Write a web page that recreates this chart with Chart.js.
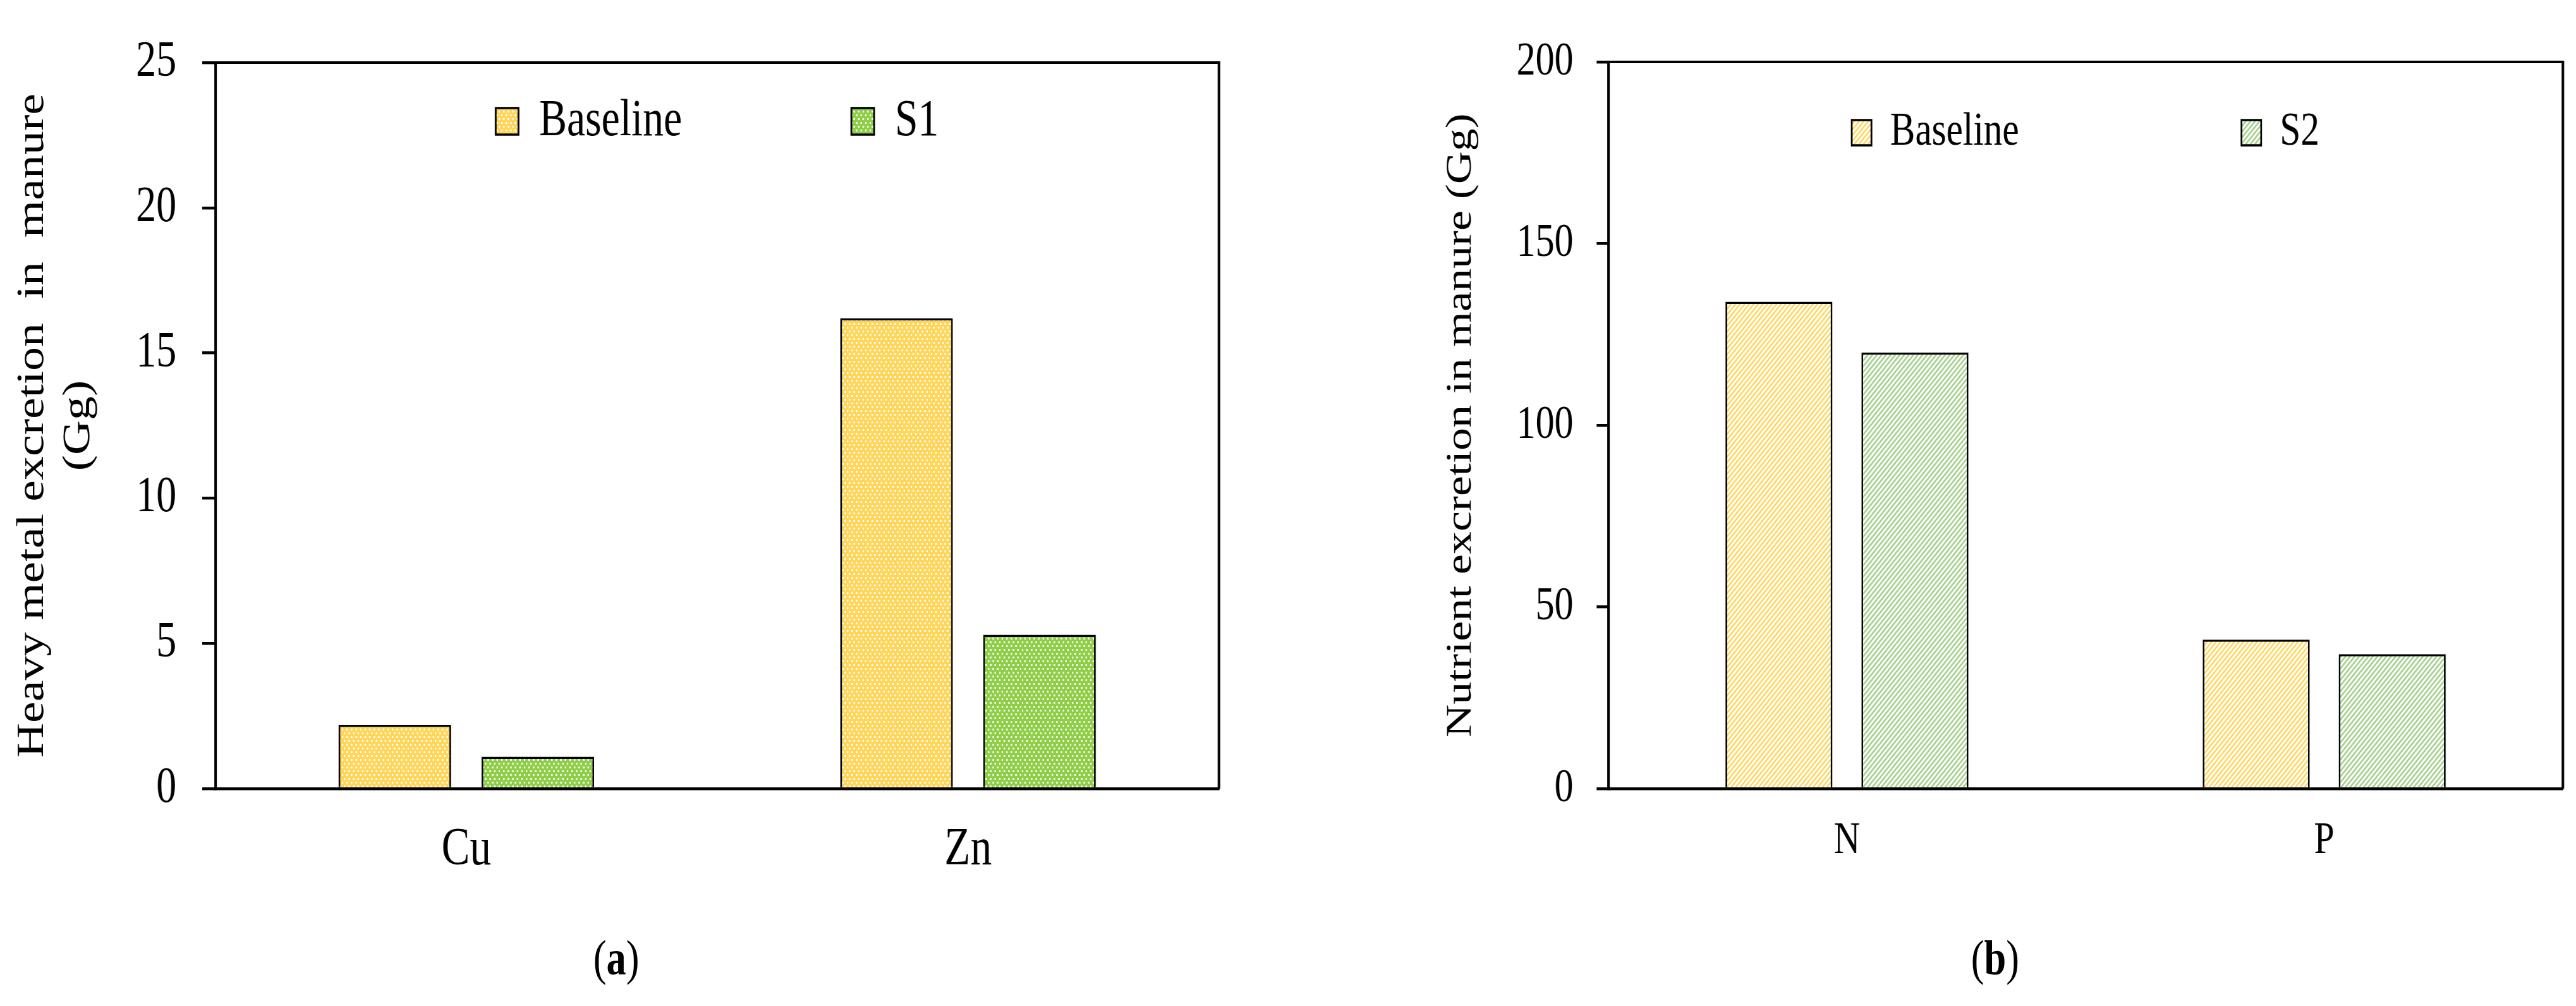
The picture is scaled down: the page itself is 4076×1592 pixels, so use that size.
<!DOCTYPE html>
<html>
<head>
<meta charset="utf-8">
<script src="https://cdn.jsdelivr.net/npm/chart.js"></script>
<style>
  html, body { margin: 0; padding: 0; background: #fff; overflow: hidden; }
  /* the source figure is squeezed sideways, so the whole thing is drawn wide and scaled */
  #fig { position: absolute; left: 0; top: 0; width: 5095px; height: 1592px; transform: scaleX(0.8); transform-origin: 0 0; }
  .panel { position: absolute; top: 0; height: 1592px; }
  .cap { position: absolute; top: 1477px; width: 400px; text-align: center; font: 78px 'Liberation Serif'; line-height: 78px; color: #000; }
</style>
</head>
<body>
<div id="fig">
  <div class="panel" style="left:0; width:2600px;"><canvas id="graficaA"></canvas></div>
  <div class="panel" style="left:2600px; width:2495px;"><canvas id="graficaB"></canvas></div>
  <div class="cap" style="left:1019px;">(<b>a</b>)</div>
  <div class="cap" style="left:3746px;">(<b>b</b>)</div>
</div>
<script>
// ---------- DATOS ----------
const metalLabels = ['Cu', 'Zn'];
const metalBaseline = [2.2, 16.2];
const metalS1 = [1.1, 5.3];
const metalTicks = [0, 5, 10, 15, 20, 25];

const nutrientLabels = ['N', 'P'];
const nutrientBaseline = [134, 41];
const nutrientS2 = [120, 37];
const nutrientTicks = [0, 50, 100, 150, 200];

const FONT = 'Liberation Serif';

// ---------- RELLENOS ----------
function dotPattern(color) {
    const c = document.createElement('canvas');
    c.width = 9;
    c.height = 12;
    const g = c.getContext('2d');
    g.fillStyle = color;
    g.fillRect(0, 0, 9, 12);
    g.fillStyle = '#ffffff';
    g.fillRect(1, 1, 3, 3);
    g.fillRect(5, 7, 3, 3);
    return g.createPattern(c, 'repeat');
}

function hatchPattern(color) {
    const s = 9;
    const c = document.createElement('canvas');
    c.width = s;
    c.height = s;
    const g = c.getContext('2d');
    g.fillStyle = '#ffffff';
    g.fillRect(0, 0, s, s);
    g.strokeStyle = color;
    g.lineWidth = 3;
    g.beginPath();
    g.moveTo(0, s); g.lineTo(s, 0);
    g.moveTo(-s / 2, s / 2); g.lineTo(s / 2, -s / 2);
    g.moveTo(s / 2, s * 1.5); g.lineTo(s * 1.5, s / 2);
    g.stroke();
    return g.createPattern(c, 'repeat');
}

// ---------- PLUGINS ----------
// legend drawn inside the plot area instead of taking space above it
const legendInside = {
    id: 'legendInside',
    afterInit(chart) {
        const lg = chart.legend;
        const fit = lg.fit;
        lg.fit = function () {
            fit.call(this);
            this.fullHeight = this.height;
            this.height = 0;
        };
    },
    afterLayout(chart, args, opts) {
        const lg = chart.legend;
        const a = chart.chartArea;
        lg.left = a.left;
        lg.right = a.right;
        lg.width = a.right - a.left;
        lg.top = opts.top;
        lg.bottom = opts.top + lg.fullHeight;
    }
};

// top and right sides of the box
const frame = {
    id: 'frame',
    afterDraw(chart) {
        const { ctx, chartArea: a } = chart;
        ctx.save();
        ctx.strokeStyle = '#000';
        ctx.lineWidth = 4;
        ctx.beginPath();
        ctx.moveTo(a.left, a.top);
        ctx.lineTo(a.right + 2.5, a.top);
        ctx.stroke();
        ctx.lineWidth = 5;
        ctx.beginPath();
        ctx.moveTo(a.right, a.top);
        ctx.lineTo(a.right, a.bottom);
        ctx.stroke();
        ctx.restore();
    }
};

// ---------- FUNCION CREAR GRAFICA ----------
function crearGrafica(canvasId, cfg) {
    const ctx = document.getElementById(canvasId).getContext('2d');

    return new Chart(ctx, {
        type: 'bar',
        data: {
            labels: cfg.labels,
            datasets: cfg.series.map(s => ({
                label: s.name,
                data: s.data,
                backgroundColor: s.fill,
                borderColor: '#000',
                borderWidth: 3.5,
                categoryPercentage: 0.57,
                barPercentage: 0.787
            }))
        },
        options: {
            responsive: true,
            maintainAspectRatio: false,
            animation: false,
            devicePixelRatio: 1,
            layout: { padding: { top: cfg.top, right: cfg.right, bottom: 0, left: 0 } },
            scales: {
                x: {
                    grid: { display: false },
                    border: { display: true, color: '#000', width: 4.5 },
                    ticks: { color: '#000', font: { family: FONT, size: cfg.catSize }, padding: cfg.catPad },
                    afterFit: s => { s.height = 1592 - 1248; }
                },
                y: {
                    min: 0,
                    max: cfg.ticks[cfg.ticks.length - 1],
                    afterBuildTicks: s => { s.ticks = cfg.ticks.map(v => ({ value: v })); },
                    grid: { drawOnChartArea: false, drawTicks: true, tickLength: cfg.tickLen, color: '#000', lineWidth: 4.5 },
                    border: { display: true, color: '#000', width: 5 },
                    ticks: { color: '#000', font: { family: FONT, size: cfg.tickSize }, padding: cfg.tickPad },
                    title: {
                        display: true,
                        text: cfg.yTitle,
                        color: '#000',
                        font: { family: FONT, size: cfg.titleSize, lineHeight: cfg.titleLH },
                        padding: { top: cfg.titlePad, bottom: 0 }
                    },
                    afterFit: s => { s.width = cfg.axisW; }
                }
            },
            plugins: {
                legend: {
                    display: true,
                    position: 'top',
                    align: 'center',
                    labels: {
                        color: '#000',
                        font: { family: FONT, size: cfg.legSize },
                        boxWidth: cfg.boxW,
                        boxHeight: cfg.boxH,
                        padding: cfg.legPad
                    }
                },
                tooltip: { enabled: false },
                legendInside: { top: cfg.legY - cfg.legPad - cfg.legSize / 2 }
            }
        },
        plugins: [legendInside, frame]
    });
}

// (a) metales pesados
crearGrafica('graficaA', {
    labels: metalLabels,
    series: [
        { name: 'Baseline', data: metalBaseline, fill: dotPattern('#ffd55a') },
        { name: 'S1', data: metalS1, fill: dotPattern('#8fcf48') }
    ],
    ticks: metalTicks,
    yTitle: ['Heavy metal excretion  in  manure', '(Gg)'],
    top: 60, right: 189, axisW: 426,
    tickLen: 26, tickPad: 51, tickSize: 80,
    titleSize: 76, titleLH: 1.2, titlePad: 19,
    catSize: 84, catPad: 40,
    legSize: 82, boxW: 45, boxH: 42, legPad: 335, legY: 192
});

// (b) nutrientes
crearGrafica('graficaB', {
    labels: nutrientLabels,
    series: [
        { name: 'Baseline', data: nutrientBaseline, fill: hatchPattern('#ffd65c') },
        { name: 'S2', data: nutrientS2, fill: hatchPattern('#a3d08a') }
    ],
    ticks: nutrientTicks,
    yTitle: 'Nutrient excretion in manure (Gg)',
    top: 98, right: 26, axisW: 581,
    tickLen: 23, tickPad: 46, tickSize: 75,
    titleSize: 72, titleLH: 1.2, titlePad: 247,
    catSize: 72, catPad: 32,
    legSize: 74, boxW: 39, boxH: 40, legPad: 440, legY: 210
});
</script>
</body>
</html>
